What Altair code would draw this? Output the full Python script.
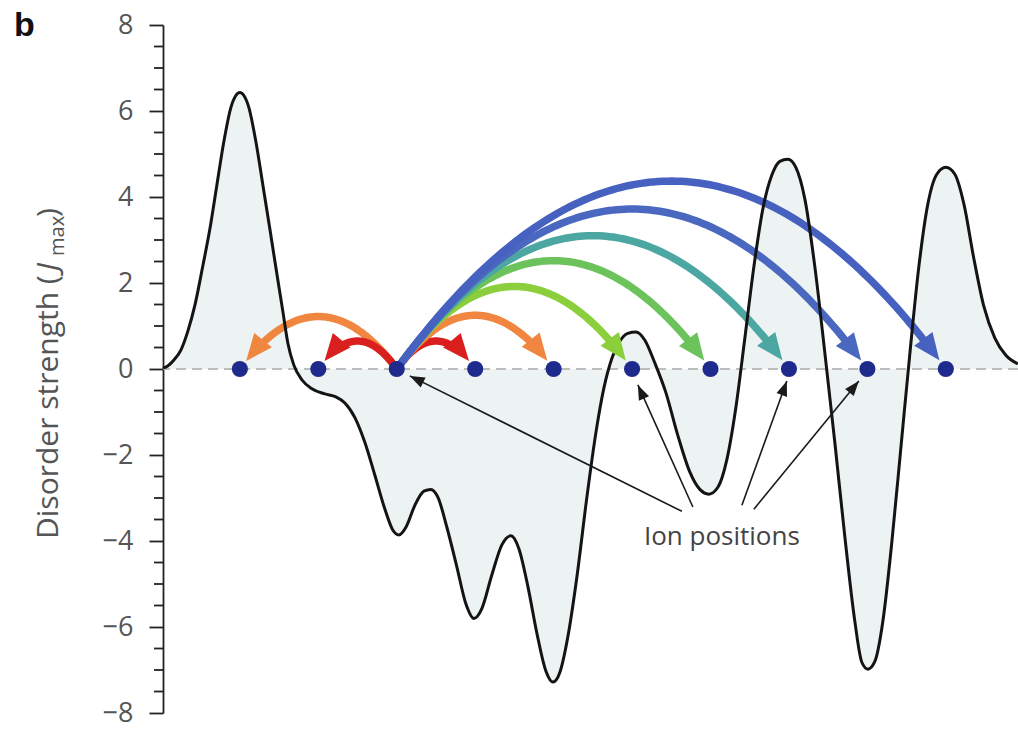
import altair as alt
import numpy as np
import pandas as pd

# Disorder profile along the ion chain: position (in ion spacings) and strength (J_max)
curve_x = [0.02, 0.08, 0.159, 0.248, 0.337, 0.426, 0.528, 0.618, 0.707, 0.796, 0.885, 0.949,
           1.000, 1.051, 1.115, 1.204, 1.293, 1.382, 1.471, 1.548, 1.612, 1.688, 1.790, 1.918,
           2.084, 2.224, 2.339, 2.466, 2.594, 2.721, 2.849, 2.951, 3.027, 3.117, 3.231, 3.346,
           3.435, 3.524, 3.639, 3.766, 3.881, 3.983, 4.085, 4.212, 4.340, 4.455, 4.557, 4.672,
           4.787, 4.902, 4.991, 5.080, 5.182, 5.297, 5.424, 5.539, 5.641, 5.743, 5.845, 5.946,
           6.048, 6.163, 6.290, 6.431, 6.584, 6.737, 6.864, 6.979, 7.094, 7.209, 7.323, 7.438,
           7.553, 7.667, 7.782, 7.884, 7.986, 8.088, 8.203, 8.330, 8.458, 8.585, 8.713, 8.840,
           8.929, 9.006, 9.095, 9.197, 9.312, 9.427, 9.542, 9.656, 9.771, 9.885, 10.000, 10.115,
           10.230, 10.357, 10.484, 10.625, 10.765, 10.918]
curve_y = [0.02, 0.07, 0.21, 0.44, 0.88, 1.48, 2.40, 3.26, 4.28, 5.29, 6.08, 6.36,
           6.43, 6.36, 6.08, 5.29, 4.28, 3.26, 2.22, 1.34, 0.60, 0.09, -0.25, -0.46,
           -0.58, -0.65, -0.79, -1.13, -1.71, -2.47, -3.26, -3.75, -3.86, -3.68, -3.17, -2.84,
           -2.80, -2.98, -3.68, -4.60, -5.46, -5.80, -5.57, -4.79, -4.09, -3.88, -4.18, -5.06,
           -6.15, -7.03, -7.28, -7.05, -6.22, -4.83, -2.98, -1.48, -0.44, 0.25, 0.65, 0.83,
           0.86, 0.67, 0.14, -0.55, -1.55, -2.40, -2.80, -2.91, -2.75, -2.10, -0.90, 0.72,
           2.38, 3.72, 4.51, 4.83, 4.88, 4.69, 3.95, 2.38, 0.37, -1.71, -3.91, -5.87,
           -6.82, -6.98, -6.80, -5.87, -4.02, -1.83, 0.37, 2.38, 3.84, 4.53, 4.69, 4.53,
           3.84, 2.57, 1.46, 0.72, 0.32, 0.12]

# Ion sites and the couplings drawn from the third ion
ion_x = [1, 2, 3, 4, 5, 6, 7, 8, 9, 10]
source_ion = 3
arc_targets = [1, 2, 4, 5, 6, 7, 8, 9, 10]
arc_heights = [1.22, 0.65, 0.65, 1.25, 1.92, 2.52, 3.10, 3.72, 4.37]
arc_colors = ["#f0863f", "#d9201f", "#d9201f", "#f0863f", "#8ccf3c",
              "#6cc35c", "#4ca7a2", "#4b68c0", "#4661bf"]

# "Ion positions" callout: pointer start and tip points
label_text = "Ion positions"
label_x, label_y = 7.145, -4.09
pointer_start_x = [6.635, 6.775, 7.400, 7.553]
pointer_start_y = [-3.31, -3.21, -3.17, -3.26]
pointer_tip_x = [3.167, 6.074, 7.973, 8.891]
pointer_tip_y = [-0.16, -0.37, -0.28, -0.28]

y_ticks = [-8, -6, -4, -2, 0, 2, 4, 6, 8]
y_minor = [v / 2 for v in range(-16, 17) if v % 4 != 0]

X_DOMAIN = [0.02, 10.92]
Y_DOMAIN = [-8, 8]
W, H = 855, 688
PX = W / (X_DOMAIN[1] - X_DOMAIN[0])
PY = H / (Y_DOMAIN[1] - Y_DOMAIN[0])

ARROW_SHAPE = "M0,0L0.85,2L-0.85,2Z"

# Arc geometry: quadratic Bezier from the source ion, apex at the given height
arc_rows, head_rows = [], []
for k, (tgt, h, col) in enumerate(zip(arc_targets, arc_heights, arc_colors)):
    x0, x1 = float(source_ion), float(tgt)
    t = np.linspace(0, 1, 600)
    xs = (1 - t) * x0 + t * x1
    ys = 4 * h * t * (1 - t)
    dist = np.hypot((xs - x1) * PX, ys * PY)
    i_tip = np.nonzero(dist >= 10)[0][-1]
    i_end = np.nonzero(dist >= 26)[0][-1]
    for j in range(0, i_end + 1, 5):
        arc_rows.append({"arc": k, "o": j, "x": xs[j], "y": ys[j], "c": col})
    arc_rows.append({"arc": k, "o": i_end, "x": xs[i_end], "y": ys[i_end], "c": col})
    tt = t[i_tip]
    dX = (x1 - x0) * PX
    dY = -4 * h * (1 - 2 * tt) * PY
    ang = float(np.degrees(np.arctan2(dX, -dY)) % 360)
    head_rows.append({"x": xs[i_tip], "y": ys[i_tip], "a": ang, "c": col})

arcs_df = pd.DataFrame(arc_rows)
heads_df = pd.DataFrame(head_rows)
curve_df = pd.DataFrame({"x": curve_x, "y": curve_y})
ions_df = pd.DataFrame({"x": ion_x, "y": [0] * len(ion_x)})

ptr_rows = []
for sx, sy, tx, ty in zip(pointer_start_x, pointer_start_y, pointer_tip_x, pointer_tip_y):
    ang = float(np.degrees(np.arctan2((tx - sx) * PX, (ty - sy) * PY)) % 360)
    ptr_rows.append({"sx": sx, "sy": sy, "tx": tx, "ty": ty, "a": ang})
ptr_df = pd.DataFrame(ptr_rows)

xscale = alt.Scale(domain=X_DOMAIN, nice=False, zero=False)
yscale = alt.Scale(domain=Y_DOMAIN, nice=False, zero=False)
yaxis = alt.Axis(values=y_ticks, format="d", title=None, grid=False,
                 tickSize=14, tickWidth=1.8, tickColor="#222", domainColor="#222",
                 domainWidth=1.8, labelFont="Open Sans", labelFontSize=27,
                 labelColor="#555", labelPadding=16, labelOverlap=False, labelFlush=False)


def X(f):
    return alt.X(f, type="quantitative", scale=xscale, axis=None)


def Y(f):
    return alt.Y(f, type="quantitative", scale=yscale, axis=yaxis)


fill = alt.Chart(curve_df).mark_area(color="#edf2f2", interpolate="monotone").encode(
    x=X("x"), y=Y("y"), y2=alt.datum(0))

zero = alt.Chart(curve_df).mark_rule(color="#bdbdbd", strokeWidth=2, strokeDash=[10, 6]).encode(
    y=alt.datum(0))

arcs = alt.Chart(arcs_df).mark_line(strokeWidth=7.5, strokeCap="butt", interpolate="linear").encode(
    x=X("x"), y=Y("y"), detail="arc:N", order="o:Q",
    color=alt.Color("c:N", scale=None))

curve = alt.Chart(curve_df).mark_line(color="#141414", strokeWidth=3, interpolate="monotone").encode(
    x=X("x"), y=Y("y"))

heads = alt.Chart(heads_df).mark_point(shape=ARROW_SHAPE, filled=True, size=720, opacity=1,
                                       strokeWidth=0).encode(
    x=X("x"), y=Y("y"), angle=alt.Angle("a:Q", scale=None),
    color=alt.Color("c:N", scale=None))

dots = alt.Chart(ions_df).mark_circle(color="#1f2b8c", size=260, opacity=1).encode(
    x=X("x"), y=Y("y"))

pointers = alt.Chart(ptr_df).mark_rule(color="#1a1a1a", strokeWidth=1.6).encode(
    x=X("sx"), y=Y("sy"), x2="tx", y2="ty")

pointer_heads = alt.Chart(ptr_df).mark_point(shape="M0,0L0.75,2L-0.75,2Z", filled=True, size=220,
                                             color="#1a1a1a", opacity=1, strokeWidth=0).encode(
    x=X("tx"), y=Y("ty"), angle=alt.Angle("a:Q", scale=None))

label = alt.Chart(pd.DataFrame({"x": [label_x], "y": [label_y], "t": [label_text]})).mark_text(
    font="Open Sans", fontSize=26, color="#444", align="center", baseline="alphabetic").encode(
    x=X("x"), y=Y("y"), text="t:N")

minor = alt.Chart(pd.DataFrame({"v": y_minor})).mark_rule(color="#222", strokeWidth=1.8).encode(
    y=Y("v"), x=alt.value(-9), x2=alt.value(0))

panel = alt.Chart(pd.DataFrame({"t": ["b"]})).mark_text(
    font="Liberation Sans", fontSize=34, fontWeight="bold", color="#111",
    align="left", baseline="alphabetic").encode(
    text="t:N", x=alt.value(-149), y=alt.value(11))


def title_piece(txt, xv, yv, size=30, style="normal"):
    return alt.Chart(pd.DataFrame({"t": [txt]})).mark_text(
        font="Open Sans", fontSize=size, fontStyle=style, color="#555", angle=270,
        align="left", baseline="alphabetic").encode(
        text="t:N", x=alt.value(xv), y=alt.value(yv))


ytitle = [
    title_piece("Disorder strength (", -105, 514),
    title_piece("J", -105, 246, style="italic"),
    title_piece("max", -99, 231, size=20),
    title_piece(")", -105, 192),
]

chart = alt.layer(
    fill, zero, arcs, curve, heads, dots, pointers, pointer_heads, label, minor, panel, *ytitle
).properties(
    width=W, height=H,
    padding={"left": 163, "top": 25, "right": 0, "bottom": 16},
    autosize=alt.AutoSizeParams(type="none"),
).configure_view(stroke=None)

chart.save("out.html", embed_options={"renderer": "svg", "actions": False})
